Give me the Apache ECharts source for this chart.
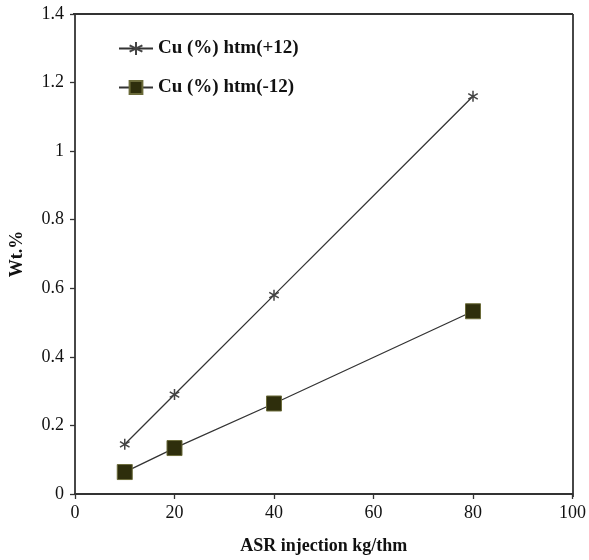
<!DOCTYPE html>
<html><head><meta charset="utf-8">
<script src="https://cdn.jsdelivr.net/npm/echarts@6/dist/echarts.min.js"></script>
<style>html,body{margin:0;padding:0;background:#fff}#c{width:589px;height:560px}</style>
</head><body><div id="c"></div>
<script>
var xValues = [10, 20, 40, 80];
var cuPlus12 = [0.145, 0.29, 0.58, 1.16];
var cuMinus12 = [0.064, 0.134, 0.264, 0.533];
var seriesNames = ['Cu (%) htm(+12)', 'Cu (%) htm(-12)'];

var font = 'Liberation Serif, Times New Roman, serif';
var star = 'path://M0,-10 L0,10 M-8.66,-5 L8.66,5 M-8.66,5 L8.66,-5';
function pairs(ys){ return xValues.map(function(x,i){return [x, ys[i]];}); }

var chart = echarts.init(document.getElementById('c'), null, {renderer:'canvas'});
chart.setOption({
  animation:false,
  backgroundColor:'#fff',
  grid:{left:73, right:16, top:14, bottom:63},
  legend:{
    orient:'vertical', left:113, top:34, itemGap:20, itemWidth:34, itemHeight:16,
    textStyle:{fontFamily:font, fontWeight:'bold', fontSize:19, color:'#111'},
    data: seriesNames
  },
  xAxis:{
    type:'value', min:0, max:100, interval:20,
    name:'ASR injection kg/thm', nameLocation:'middle', nameGap:43,
    nameTextStyle:{fontFamily:font, fontWeight:'bold', fontSize:18, color:'#111'},
    axisLine:{show:true, lineStyle:{color:'#333', width:1.8}},
    axisTick:{show:true, length:5, lineStyle:{color:'#333', width:1.3}},
    axisLabel:{fontFamily:font, fontSize:18, color:'#111', margin:10},
    splitLine:{show:false}
  },
  yAxis:{
    type:'value', min:0, max:1.4, interval:0.2,
    name:'Wt.%', nameLocation:'middle', nameGap:49,
    nameTextStyle:{fontFamily:font, fontWeight:'bold', fontSize:18, color:'#111'},
    axisLine:{show:true, lineStyle:{color:'#333', width:1.8}},
    axisTick:{show:true, length:5, lineStyle:{color:'#333', width:1.3}},
    axisLabel:{fontFamily:font, fontSize:18, color:'#111', margin:11,
      formatter:function(v){return String(+v.toFixed(1));}},
    splitLine:{show:false}
  },
  graphic:[
    {type:'line', shape:{x1:73,y1:14,x2:573,y2:14}, style:{stroke:'#333', lineWidth:1.8}},
    {type:'line', shape:{x1:573,y1:14,x2:573,y2:497}, style:{stroke:'#333', lineWidth:1.8}}
  ],
  series:[
    {name:seriesNames[0], type:'line', data:pairs(cuPlus12),
     symbol:star, symbolSize:11, symbolKeepAspect:true,
     lineStyle:{color:'#333', width:1.3},
     itemStyle:{color:'rgba(0,0,0,0)', borderColor:'#444', borderWidth:1.5}},
    {name:seriesNames[1], type:'line', data:pairs(cuMinus12),
     symbol:'rect', symbolSize:15,
     lineStyle:{color:'#333', width:1.3},
     itemStyle:{color:'#2e2e0c', borderColor:'#6b6b3a', borderWidth:1}}
  ]
});
</script></body></html>
